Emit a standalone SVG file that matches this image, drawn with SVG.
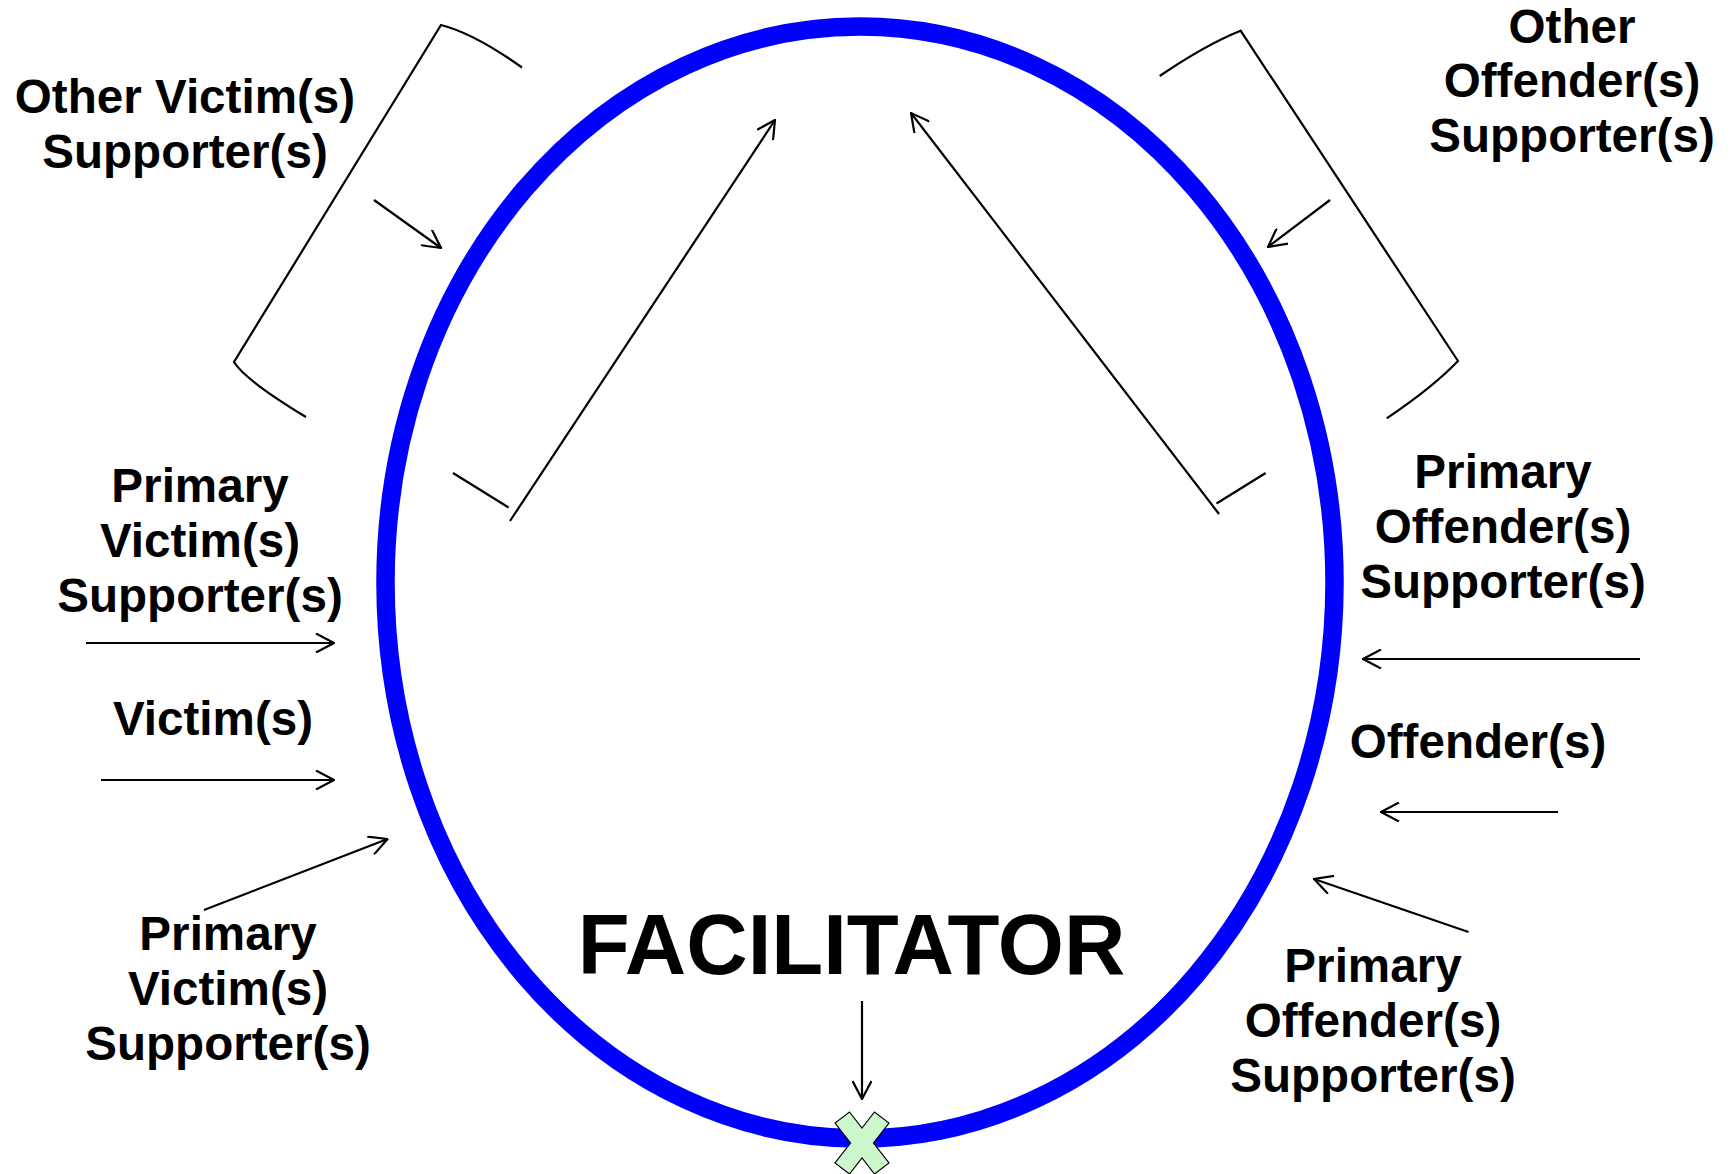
<svg xmlns="http://www.w3.org/2000/svg" width="1735" height="1174" viewBox="0 0 1735 1174">
  <style>
    .lbl { font-family: "Liberation Sans", Arial, sans-serif; font-weight: bold; font-size: 47.6px; fill: #000; text-anchor: middle; }
    .big { font-family: "Liberation Sans", Arial, sans-serif; font-weight: bold; font-size: 85px; fill: #000; text-anchor: middle; }
    .ln { fill: none; stroke: #000; stroke-width: 2.2; }
    .arr { fill: none; stroke: #000; stroke-width: 2.2; marker-end: url(#ah); }
  </style>
  <defs>
    <marker id="ah" viewBox="0 0 20 20" refX="19" refY="10" markerWidth="20" markerHeight="20" markerUnits="userSpaceOnUse" orient="auto">
      <path d="M1,0.5 L19,10 L1,19.5" fill="none" stroke="#000" stroke-width="2.2"/>
    </marker>
  </defs>
  <rect width="1735" height="1174" fill="#fff"/>

  <g id="circle">
    <ellipse cx="860" cy="582.5" rx="474.5" ry="556" fill="none" stroke="#0000ff" stroke-width="18.5"/>
  </g>

  <g id="other-victim-supporters">
    <text class="lbl" x="185" y="113">Other Victim(s)</text>
    <text class="lbl" x="185" y="168">Supporter(s)</text>
  </g>
  <g id="other-offender-supporters">
    <text class="lbl" x="1572" y="43">Other</text>
    <text class="lbl" x="1572" y="97">Offender(s)</text>
    <text class="lbl" x="1572" y="152">Supporter(s)</text>
  </g>
  <g id="primary-victim-supporters-upper">
    <text class="lbl" x="200" y="502">Primary</text>
    <text class="lbl" x="200" y="557">Victim(s)</text>
    <text class="lbl" x="200" y="612">Supporter(s)</text>
  </g>
  <g id="victims">
    <text class="lbl" x="213" y="735">Victim(s)</text>
  </g>
  <g id="primary-offender-supporters-upper">
    <text class="lbl" x="1503" y="488">Primary</text>
    <text class="lbl" x="1503" y="543">Offender(s)</text>
    <text class="lbl" x="1503" y="598">Supporter(s)</text>
  </g>
  <g id="offenders">
    <text class="lbl" x="1478" y="758">Offender(s)</text>
  </g>
  <g id="primary-victim-supporters-lower">
    <text class="lbl" x="228" y="950">Primary</text>
    <text class="lbl" x="228" y="1005">Victim(s)</text>
    <text class="lbl" x="228" y="1060">Supporter(s)</text>
  </g>
  <g id="primary-offender-supporters-lower">
    <text class="lbl" x="1373" y="982">Primary</text>
    <text class="lbl" x="1373" y="1037">Offender(s)</text>
    <text class="lbl" x="1373" y="1092">Supporter(s)</text>
  </g>
  <g id="facilitator">
    <text class="big" x="851.5" y="974">FACILITATOR</text>
  </g>
  <g id="facilitator-mark">
    <polygon transform="translate(862,1143)" points="0,-15 12.5,-31 27,-20 11.5,0 27,20 12.5,31 0,15 -12.5,31 -27,20 -11.5,0 -27,-20 -12.5,-31" fill="#ccf7cc" stroke="#000" stroke-width="1.2" stroke-linejoin="miter"/>
  </g>

  <g id="connectors">
    <path class="ln" d="M522,67.5 Q474.5,33.6 441,25 L234,362 Q245,380 306,417"/>
    <path class="ln" d="M1159.7,76 Q1205,45 1240.6,30.7 L1458,361 Q1432,388 1386.7,418.3"/>
    <path class="ln" d="M453,473 L508.6,507.5"/>
    <path class="ln" d="M1216.5,503.5 L1265.7,473"/>
    <path class="arr" d="M374,200 L441,248"/>
    <path class="arr" d="M1330,200 L1268,247"/>
    <path class="arr" d="M510,521 L775,120"/>
    <path class="arr" d="M1219,514 L911,113"/>
    <path class="arr" d="M86,643 L334,643"/>
    <path class="arr" d="M101,780 L334,780"/>
    <path class="arr" d="M1640,659 L1363,659"/>
    <path class="arr" d="M1558,812 L1381,812"/>
    <path class="arr" d="M204,910 L387.5,839"/>
    <path class="arr" d="M1468.5,932 L1314,879"/>
    <path class="arr" d="M862,1001 L862,1099"/>
  </g>
</svg>
